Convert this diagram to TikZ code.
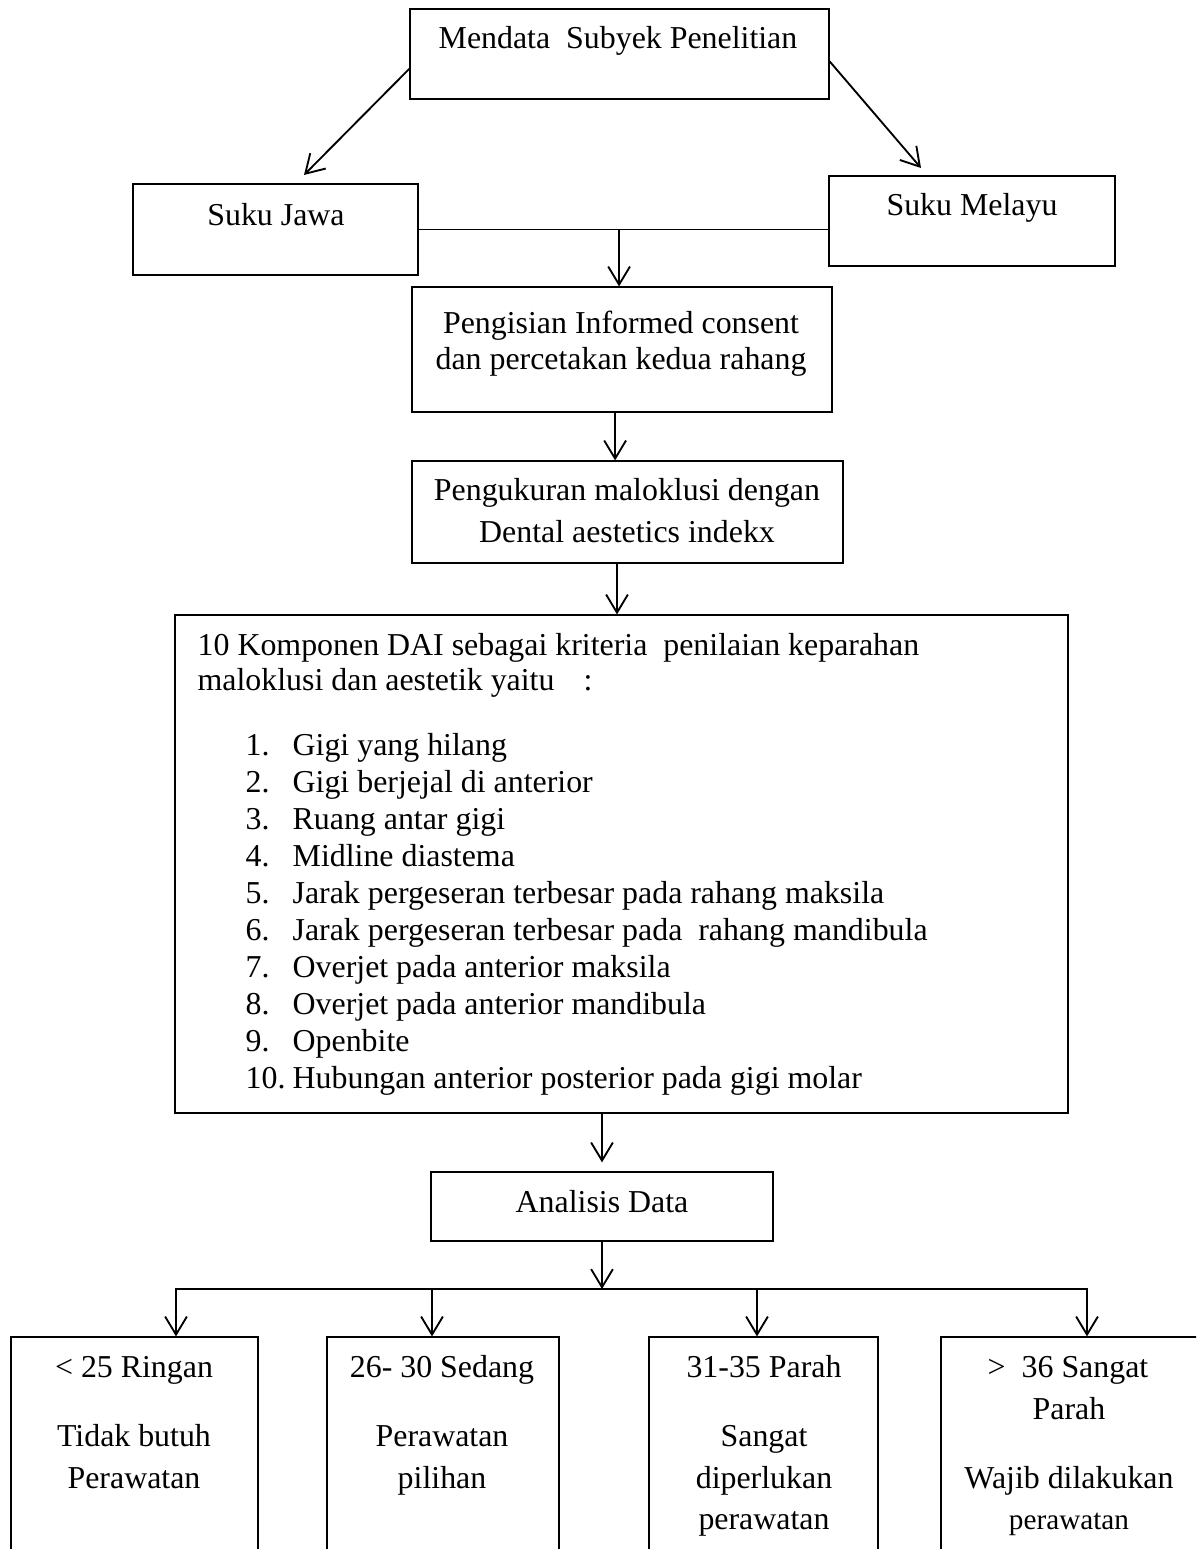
\documentclass[tikz,border=0pt]{standalone}
\usepackage{fontspec}
\setmainfont{Liberation Serif}
\usetikzlibrary{arrows.meta}
\newcommand{\pix}{0.3764pt}

\begin{document}
\begin{tikzpicture}[x=\pix,y=-\pix,line width=0.5pt,
   kotak/.style 2 args={draw,line width=0.45pt,minimum width=#1*\pix,minimum height=#2*\pix,inner sep=0pt},
   tulis/.style={inner sep=0pt,anchor=base,font=\fontsize{12}{14}\selectfont},
   panah/.style={line width=0.7pt,-{Straight Barb[length=6.8pt,width=8.2pt]}}]
   \clip (0,0) rectangle (1196,1549);
   % kotak
   \node[kotak={419}{90}]  (mendata)    at (619.5,54)    {};
   \node[kotak={285}{91}]  (jawa)       at (275.5,229.5) {};
   \node[kotak={286}{90}]  (melayu)     at (972,221)     {};
   \node[kotak={420}{125}] (pengisian)  at (622,349.5)   {};
   \node[kotak={431}{102}] (pengukuran) at (627.5,512)   {};
   \node[kotak={893}{498}] (dai)        at (621.5,864)   {};
   \node[kotak={342}{69}]  (analisis)   at (602,1206.5)  {};
   \node[kotak={247}{263}] (ringan)     at (134.5,1468.5) {};
   \node[kotak={232}{263}] (sedang)     at (443,1468.5)  {};
   \node[kotak={229}{263}] (parah)      at (763.5,1468.5) {};
   \node[kotak={309}{263}] (sangat)     at (1095.5,1468.5) {};
   % teks
   \node[tulis] (tMendata) at (618,49)  {Mendata\ \ Subyek Penelitian};
   \node[tulis] (tJawa)    at (276,225) {Suku Jawa};
   \node[tulis] (tMelayu)  at (972,215) {Suku Melayu};
   \node[tulis] (tIsi1)    at (621,333) {Pengisian Informed consent};
   \node[tulis] (tIsi2)    at (621,369) {dan percetakan kedua rahang};
   \node[tulis] (tUkur1)   at (627,500) {Pengukuran maloklusi dengan};
   \node[tulis] (tUkur2)   at (627,542) {Dental aestetics indekx};
   \node[tulis,anchor=base west] (tDai1) at (197,655)
      {10 Komponen DAI sebagai kriteria\ \ penilaian keparahan};
   \node[tulis,anchor=base west] (tDai2) at (197,690)
      {maloklusi dan aestetik yaitu\hspace{11pt}:};
   \foreach \i/\isi in {1/Gigi yang hilang,2/Gigi berjejal di anterior,
      3/Ruang antar gigi,4/Midline diastema,
      5/Jarak pergeseran terbesar pada rahang maksila,
      6/Jarak pergeseran terbesar pada\ \ rahang mandibula,
      7/Overjet pada anterior maksila,8/Overjet pada anterior mandibula,
      9/Openbite,10/Hubungan anterior posterior pada gigi molar}{
     \node[tulis,anchor=base west] (no\i)   at (245,718+37*\i) {\i.};
     \node[tulis,anchor=base west] (item\i) at (292,718+37*\i) {\isi};
   }
   \node[tulis] (tAnalisis) at (602,1212) {Analisis Data};
   \node[tulis] (tRingan1) at (134,1377) {< 25 Ringan};
   \node[tulis] (tRingan2) at (134,1446) {Tidak butuh};
   \node[tulis] (tRingan3) at (134,1488) {Perawatan};
   \node[tulis] (tSedang1) at (442,1377) {26- 30 Sedang};
   \node[tulis] (tSedang2) at (442,1446) {Perawatan};
   \node[tulis] (tSedang3) at (442,1488) {pilihan};
   \node[tulis] (tParah1)  at (764,1377) {31-35 Parah};
   \node[tulis] (tParah2)  at (764,1446) {Sangat};
   \node[tulis] (tParah3)  at (764,1488) {diperlukan};
   \node[tulis] (tParah4)  at (764,1529) {perawatan};
   \node[tulis] (tSangat1) at (1068,1377) {>\ \ 36 Sangat};
   \node[tulis] (tSangat2) at (1069,1419) {Parah};
   \node[tulis] (tSangat3) at (1069,1488) {Wajib dilakukan};
   \node[tulis,font=\fontsize{11}{13}\selectfont] (tSangat4) at (1069,1529) {perawatan};
   % panah
   \coordinate (ujungJawa)   at (304,175);
   \coordinate (ujungMelayu) at (921,168);
   \draw[panah] (mendata.184) -- (ujungJawa);
   \draw[panah] (mendata.-2) -- (ujungMelayu);
   \draw (jawa.east) -- (jawa.east -| melayu.west);
   \draw[panah] ([xshift=-1.1pt]jawa.east -| pengisian.north) -- ([xshift=-1.1pt]pengisian.north);
   \draw[panah] ([xshift=-2.6pt]pengisian.south) -- ([xshift=-2.6pt]pengisian.south |- pengukuran.north);
   \draw[panah] ([xshift=-1.7pt]dai.north |- pengukuran.south) -- ([xshift=-1.7pt]dai.north);
   \draw[panah,shorten >=3.4pt] (analisis.north |- dai.south) -- (analisis.north);
   \coordinate (barKiri)  at (175,1289);
   \coordinate (barKanan) at (1088,1289);
   \draw[panah] (analisis.south) -- (analisis.south |- barKiri);
   \foreach \x/\kotak in {176/ringan,432/sedang,757/parah,1087/sangat}{
     \coordinate (c\kotak) at (\x,1289);
     \draw[panah] (c\kotak) -- (c\kotak |- \kotak.north);
   }
   \draw[line width=1pt] (barKiri) -- (barKanan);
\end{tikzpicture}
\end{document}
